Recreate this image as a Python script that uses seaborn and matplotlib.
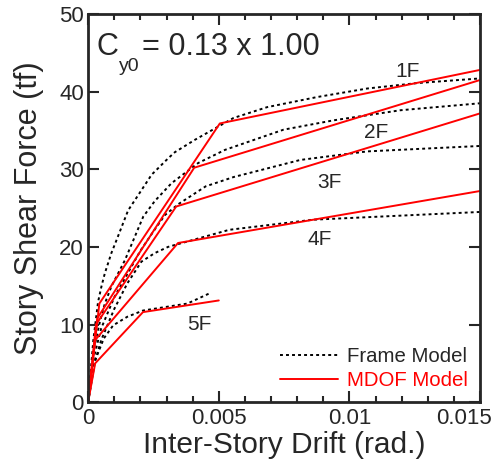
import numpy as np
import pandas as pd
import matplotlib
matplotlib.use("Agg")
import matplotlib.pyplot as plt
import matplotlib.transforms as mtransforms
import seaborn as sns
from matplotlib.ticker import MultipleLocator
from matplotlib.lines import Line2D

# ---- data ----
stories = ["1F", "2F", "3F", "4F", "5F"]

frame_1F_drift = [0, 0.0002, 0.00038, 0.00051, 0.00064, 0.00089, 0.00109, 0.00153, 0.00204, 0.00243,
                  0.00306, 0.00332, 0.00409, 0.00493, 0.00556, 0.00685, 0.00876, 0.01068, 0.01259, 0.015]
frame_1F_force = [0, 8.0, 12.9, 14.9, 16.6, 19.2, 20.9, 24.7, 27.3, 29.3,
                  31.4, 32.2, 33.8, 35.4, 36.6, 38.0, 39.3, 40.4, 41.1, 41.7]
frame_2F_drift = [0, 0.0002, 0.00046, 0.00064, 0.00089, 0.00115, 0.00141, 0.00166, 0.00211, 0.00255,
                  0.00319, 0.00421, 0.00524, 0.00748, 0.00939, 0.01195, 0.015]
frame_2F_force = [0, 6.5, 10.5, 12.7, 14.9, 16.6, 18.3, 20.3, 23.9, 25.9,
                  28.2, 30.8, 32.5, 35.1, 36.3, 37.6, 38.5]
frame_3F_drift = [0, 0.0002, 0.0005, 0.001, 0.0015, 0.002, 0.0025, 0.00294, 0.00345, 0.0045,
                  0.00557, 0.00812, 0.01068, 0.015]
frame_3F_force = [0, 5.5, 9.5, 13.5, 16.5, 19.5, 22.0, 24.1, 25.5, 27.8,
                  29.0, 31.2, 32.3, 33.0]
frame_4F_drift = [0, 0.0002, 0.0005, 0.001, 0.0015, 0.00204, 0.00255, 0.00306, 0.0054, 0.0086, 0.015]
frame_4F_force = [0, 4.5, 8.0, 12.0, 15.3, 18.1, 19.2, 20.0, 22.2, 23.5, 24.5]
frame_5F_drift = [0, 0.00027, 0.0006, 0.00096, 0.0015, 0.0021, 0.0038, 0.0047]
frame_5F_force = [0, 5.4, 8.2, 9.9, 11.0, 11.8, 12.7, 14.1]

mdof_1F_drift = [0, 0.00043, 0.00504, 0.015]
mdof_1F_force = [0, 12.7, 35.9, 42.8]
mdof_2F_drift = [0, 0.00035, 0.00406, 0.015]
mdof_2F_force = [0, 10.8, 30.2, 41.5]
mdof_3F_drift = [0, 0.0003, 0.00337, 0.015]
mdof_3F_force = [0, 10.0, 25.2, 37.2]
mdof_4F_drift = [0, 0.00027, 0.00344, 0.015]
mdof_4F_force = [0, 8.0, 20.5, 27.2]
mdof_5F_drift = [0, 0.00027, 0.0021, 0.005]
mdof_5F_force = [0, 5.0, 11.6, 13.1]

label_text = ["1F", "2F", "3F", "4F", "5F"]
label_x = [0.01176, 0.01054, 0.00877, 0.00838, 0.00378]
label_y = [41.9, 34.0, 27.6, 20.2, 9.3]

x_ticks = [0, 0.005, 0.01, 0.015]
x_ticklabels = ["0", "0.005", "0.01", "0.015"]

frame_drift = [frame_1F_drift, frame_2F_drift, frame_3F_drift, frame_4F_drift, frame_5F_drift]
frame_force = [frame_1F_force, frame_2F_force, frame_3F_force, frame_4F_force, frame_5F_force]
mdof_drift = [mdof_1F_drift, mdof_2F_drift, mdof_3F_drift, mdof_4F_drift, mdof_5F_drift]
mdof_force = [mdof_1F_force, mdof_2F_force, mdof_3F_force, mdof_4F_force, mdof_5F_force]

rows = []
for s, dx, fy in zip(stories, frame_drift, frame_force):
    for a, b in zip(dx, fy):
        rows.append(dict(story=s, drift=a, force=b))
frame_df = pd.DataFrame(rows)
rows = []
for s, dx, fy in zip(stories, mdof_drift, mdof_force):
    for a, b in zip(dx, fy):
        rows.append(dict(story=s, drift=a, force=b))
mdof_df = pd.DataFrame(rows)

sns.set_style("ticks")
plt.rcParams["font.family"] = ["Liberation Sans", "DejaVu Sans"]

fig = plt.figure(figsize=(4.95, 4.66), dpi=100)
ax = fig.add_axes([0.178, 0.137, 0.792, 0.833])

DOT = (0, (1.5, 1.6))
sns.lineplot(data=frame_df, x="drift", y="force", units="story", estimator=None,
             sort=False, color="black", lw=1.4, linestyle=DOT, ax=ax)
sns.lineplot(data=mdof_df, x="drift", y="force", units="story", estimator=None,
             sort=False, color="#ff0000", lw=1.4, ax=ax)

for t, x, y in zip(label_text, label_x, label_y):
    ax.text(x, y, t, fontsize=15, ha="left", va="baseline")

# C_y0 annotation
cx, cy = 0.00034, 44.7
ax.annotate("C", (cx, cy), xytext=(0, 0), textcoords="offset pixels",
            fontsize=22, ha="left", va="baseline")
ax.annotate("y0", (cx, cy), xytext=(22, -16), textcoords="offset pixels",
            fontsize=14, ha="left", va="baseline")
ax.annotate("= 0.13 x 1.00", (cx, cy), xytext=(45, 0), textcoords="offset pixels",
            fontsize=22, ha="left", va="baseline")

ax.set_xlim(0, 0.015)
ax.set_ylim(0, 50)
ax.xaxis.set_minor_locator(MultipleLocator(0.001))
ax.yaxis.set_major_locator(MultipleLocator(10))
ax.set_xticks(x_ticks)
ax.set_xticklabels(x_ticklabels)
ax.tick_params(direction="in", which="both", top=True, right=True, labelsize=16, width=1.5)
ax.tick_params(axis="x", pad=4)
ax.tick_params(axis="y", pad=3)
ax.tick_params(which="major", length=8)
ax.tick_params(which="minor", length=4.5)
for sp in ax.spines.values():
    sp.set_linewidth(2.0)

ax.set_xlabel("Inter-Story Drift (rad.)", fontsize=21.5, labelpad=2)
ax.set_ylabel("Story Shear Force (tf)", fontsize=22, labelpad=11)

# last x tick label shifted left so it stays inside the figure
last = ax.get_xticklabels()[-1]
last.set_horizontalalignment("right")
last.set_transform(last.get_transform() + mtransforms.ScaledTranslation(12 / 100, 0, fig.dpi_scale_trans))

handles = [Line2D([], [], color="black", lw=1.4, linestyle=DOT),
           Line2D([], [], color="#ff0000", lw=1.4)]
leg = ax.legend(handles, ["Frame Model", "MDOF Model"], loc="lower right", frameon=False,
                fontsize=14.7, handlelength=2.85, handletextpad=0.45, borderaxespad=0.25,
                borderpad=0.35, labelspacing=0.25)
leg.get_texts()[1].set_color("#ff0000")

fig.savefig("out.png", dpi=100)
